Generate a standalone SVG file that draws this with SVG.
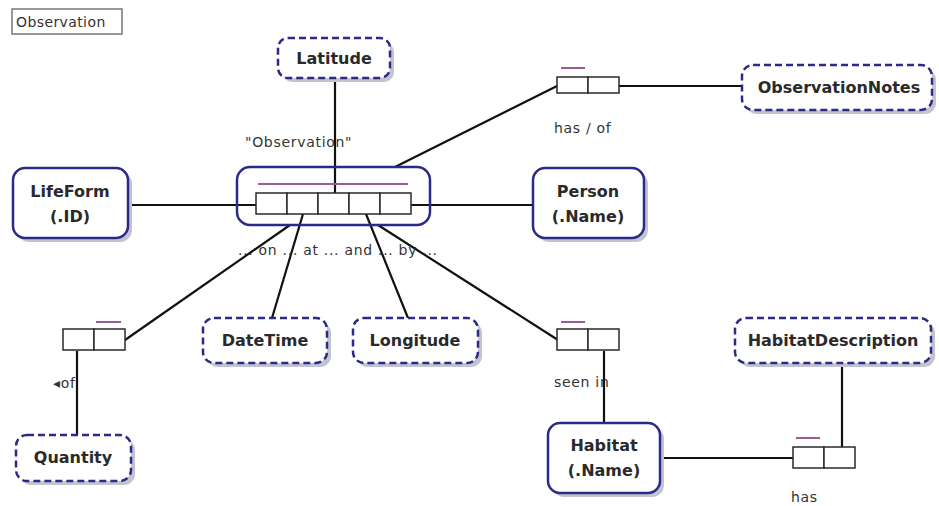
<svg xmlns="http://www.w3.org/2000/svg" width="939" height="506" viewBox="0 0 939 506">
  <style>
    .bg { fill: #ffffff; }
    .entity { fill: #ffffff; stroke: #2b2a86; stroke-width: 2.5; }
    .value { fill: #ffffff; stroke: #2b2a86; stroke-width: 2.5; stroke-dasharray: 7 4; }
    .shadow { fill: #c4c4d0; }
    .name { font-family: Tahoma, "DejaVu Sans", "Noto Sans", sans-serif; font-size: 16px; font-weight: bold; fill: #2a2a2a; text-anchor: middle; }
    .label { font-family: Tahoma, "DejaVu Sans", "Noto Sans", sans-serif; font-size: 14px; letter-spacing: 0.7px; fill: #333333; }
    .role { fill: #ffffff; stroke: #2a2a2a; stroke-width: 1.5; }
    .uniq { stroke: #9a5b9a; stroke-width: 2; }
    .conn { stroke: #111111; stroke-width: 2.2; fill: none; }
    .objbox { fill: none; stroke: #2b2a86; stroke-width: 2.5; }
  </style>
  <rect class="bg" x="0" y="0" width="939" height="506"/>

  <!-- diagram title -->
  <g id="title">
    <rect x="12" y="9" width="110" height="25" fill="#ffffff" stroke="#777777" stroke-width="1.5"/>
    <text class="label" x="16" y="27" style="letter-spacing:0.4px">Observation</text>
  </g>

  <!-- connectors -->
  <g id="connectors">
    <line class="conn" x1="335" y1="78" x2="335" y2="193"/>
    <line class="conn" x1="128" y1="205" x2="256" y2="205"/>
    <line class="conn" x1="411" y1="205" x2="533" y2="205"/>
    <line class="conn" x1="395" y1="167" x2="557" y2="86"/>
    <line class="conn" x1="619" y1="86" x2="742" y2="86"/>
    <line class="conn" x1="303" y1="214" x2="272" y2="318"/>
    <line class="conn" x1="366" y1="214" x2="408" y2="318"/>
    <line class="conn" x1="125" y1="340" x2="290" y2="225"/>
    <line class="conn" x1="77" y1="351" x2="77" y2="435"/>
    <line class="conn" x1="378" y1="225" x2="558" y2="340"/>
    <line class="conn" x1="604" y1="351" x2="604" y2="423"/>
    <line class="conn" x1="660" y1="458" x2="793" y2="458"/>
    <line class="conn" x1="842" y1="363" x2="842" y2="447"/>
  </g>

  <!-- objectified fact type: Observation -->
  <g id="observation-fact">
    <rect class="objbox" x="237" y="167" width="193" height="58" rx="13"/>
    <line class="uniq" x1="258" y1="184" x2="408" y2="184"/>
    <rect class="role" x="256" y="193" width="31" height="21"/>
    <rect class="role" x="287" y="193" width="31" height="21"/>
    <rect class="role" x="318" y="193" width="31" height="21"/>
    <rect class="role" x="349" y="193" width="31" height="21"/>
    <rect class="role" x="380" y="193" width="31" height="21"/>
    <text class="label" x="245" y="147">"Observation"</text>
    <text class="label" x="238" y="255">... on ... at ... and ... by ...</text>
  </g>

  <g id="latitude">
    <rect class="shadow" x="282" y="42" width="112" height="40" rx="10"/>
    <rect class="value" x="278" y="38" width="112" height="40" rx="10"/>
    <text class="name" x="334" y="64">Latitude</text>
  </g>

  <g id="lifeform">
    <rect class="shadow" x="17" y="172" width="115" height="70" rx="12"/>
    <rect class="entity" x="13" y="168" width="115" height="70" rx="12"/>
    <text class="name" x="70" y="197">LifeForm</text>
    <text class="name" x="70" y="222">(.ID)</text>
  </g>

  <g id="person">
    <rect class="shadow" x="537" y="172" width="111" height="70" rx="12"/>
    <rect class="entity" x="533" y="168" width="111" height="70" rx="12"/>
    <text class="name" x="588" y="197">Person</text>
    <text class="name" x="588" y="222">(.Name)</text>
  </g>

  <!-- fact type: Observation has ObservationNotes -->
  <g id="notes-fact">
    <line class="uniq" x1="561" y1="68" x2="585" y2="68"/>
    <rect class="role" x="557" y="77" width="31" height="16"/>
    <rect class="role" x="588" y="77" width="31" height="16"/>
    <text class="label" x="554" y="133">has / of</text>
  </g>

  <g id="observation-notes">
    <rect class="shadow" x="746" y="69" width="190" height="45" rx="11"/>
    <rect class="value" x="742" y="65" width="190" height="45" rx="11"/>
    <text class="name" x="839" y="93">ObservationNotes</text>
  </g>

  <g id="datetime">
    <rect class="shadow" x="207" y="322" width="124" height="45" rx="11"/>
    <rect class="value" x="203" y="318" width="124" height="45" rx="11"/>
    <text class="name" x="265" y="346">DateTime</text>
  </g>

  <g id="longitude">
    <rect class="shadow" x="357" y="322" width="125" height="45" rx="11"/>
    <rect class="value" x="353" y="318" width="125" height="45" rx="11"/>
    <text class="name" x="415" y="346">Longitude</text>
  </g>

  <!-- fact type: Observation of Quantity -->
  <g id="quantity-fact">
    <line class="uniq" x1="96" y1="322" x2="121" y2="322"/>
    <rect class="role" x="63" y="329" width="31" height="21"/>
    <rect class="role" x="94" y="329" width="31" height="21"/>
    <text class="label" x="53" y="388">◂of</text>
  </g>

  <g id="quantity">
    <rect class="shadow" x="20" y="439" width="115" height="46" rx="11"/>
    <rect class="value" x="16" y="435" width="115" height="46" rx="11"/>
    <text class="name" x="73" y="463">Quantity</text>
  </g>

  <!-- fact type: Observation seen in Habitat -->
  <g id="habitat-fact">
    <line class="uniq" x1="561" y1="322" x2="585" y2="322"/>
    <rect class="role" x="557" y="329" width="31" height="21"/>
    <rect class="role" x="588" y="329" width="31" height="21"/>
    <text class="label" x="554" y="387">seen in</text>
  </g>

  <g id="habitat">
    <rect class="shadow" x="552" y="427" width="112" height="70" rx="12"/>
    <rect class="entity" x="548" y="423" width="112" height="70" rx="12"/>
    <text class="name" x="604" y="451">Habitat</text>
    <text class="name" x="604" y="476">(.Name)</text>
  </g>

  <!-- fact type: Habitat has HabitatDescription -->
  <g id="description-fact">
    <line class="uniq" x1="796" y1="438" x2="820" y2="438"/>
    <rect class="role" x="793" y="447" width="31" height="21"/>
    <rect class="role" x="824" y="447" width="31" height="21"/>
    <text class="label" x="791" y="502">has</text>
  </g>

  <g id="habitat-description">
    <rect class="shadow" x="739" y="322" width="196" height="45" rx="11"/>
    <rect class="value" x="735" y="318" width="196" height="45" rx="11"/>
    <text class="name" x="833" y="346">HabitatDescription</text>
  </g>
</svg>
